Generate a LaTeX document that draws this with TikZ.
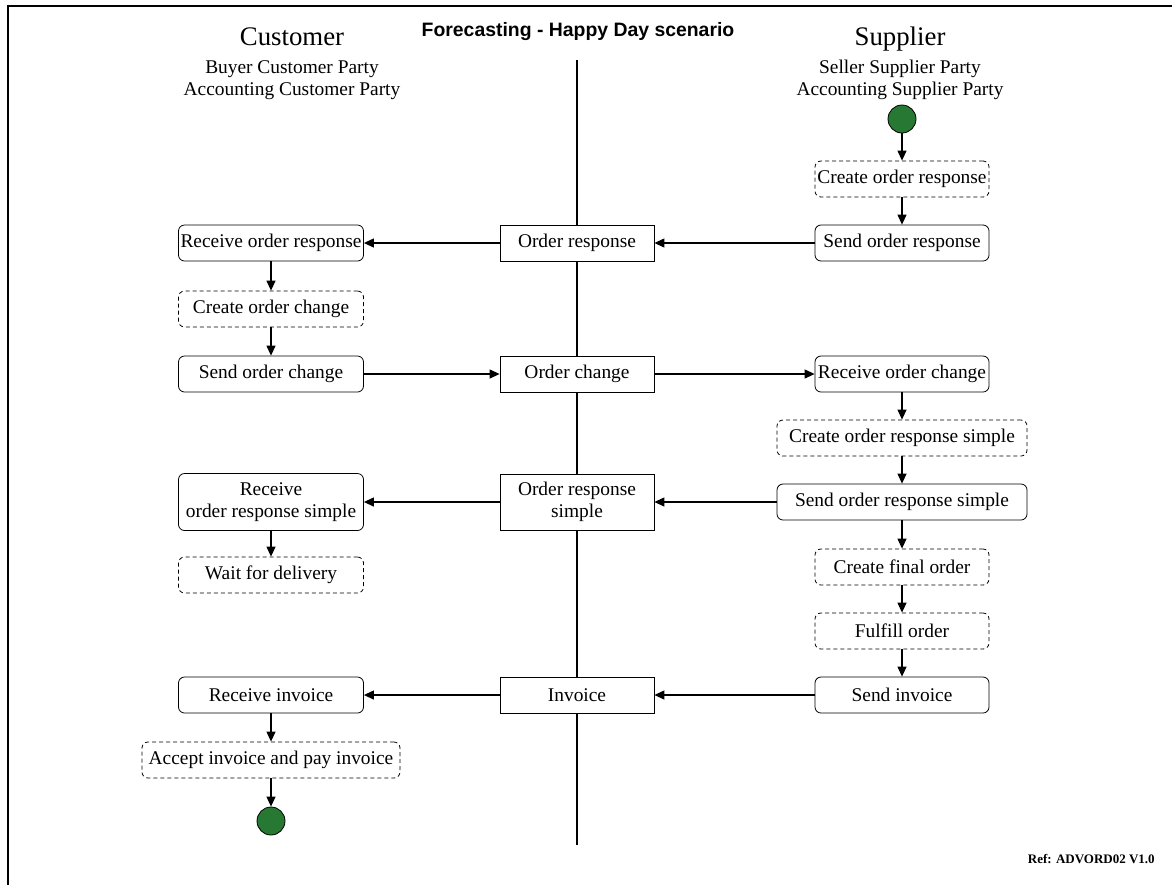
\documentclass[tikz,border=0pt]{standalone}
\usepackage{fontspec}
\setmainfont{Liberation Serif}
\newfontfamily\titlefont{Liberation Sans}
\usepackage{tikz}
\usetikzlibrary{positioning,shapes,arrows.meta}
\definecolor{startgreen}{RGB}{38,120,50}

\begin{document}
\begin{tikzpicture}[x=0.5pt,y=-0.5pt,semithick,->,>={Triangle[length=5pt,width=4.5pt]}]
\tikzstyle{every node}=[font=\fontsize{9.7}{11}\selectfont]
\tikzstyle{act}=[rectangle,rounded corners=3pt,draw,thin,minimum height=18pt,inner sep=1pt,align=center]
\tikzstyle{optact}=[act,dash pattern=on 2pt off 1.5pt]
\tikzstyle{msg}=[rectangle,draw,thin,fill=white,minimum height=18pt,minimum width=77pt,align=center]
\tikzstyle{terminal}=[circle,draw,thin,fill=startgreen,minimum size=14pt,inner sep=0pt]
\useasboundingbox (0,0) rectangle (1172,885);
\draw[-,line width=1pt] (8,885) -- (8,6) -- (1172,6);
% headings
\node[anchor=base,font=\titlefont\bfseries\fontsize{9.7}{11}\selectfont] (title) at (578,36) {Forecasting - Happy Day scenario};
\node[anchor=base,font=\fontsize{13.4}{16}\selectfont] (cust) at (292,45) {Customer};
\node[anchor=base,align=center] (custroles) at (292,95) {Buyer Customer Party\\Accounting Customer Party};
\node[anchor=base,font=\fontsize{13.4}{16}\selectfont] (supp) at (900,45) {Supplier};
\node[anchor=base,align=center] (supproles) at (900,95) {Seller Supplier Party\\Accounting Supplier Party};
\node[anchor=base east,font=\bfseries\fontsize{6.5}{8}\selectfont] (ref) at (1162,863) {Ref: ADVORD02 V1.0};
% the swimlane divider
\coordinate (ltop) at (577,60);
\coordinate (lbot) at (577,845);
\draw[-,line width=1.2pt] (ltop) -- (lbot);
% supplier side, first exchange
\node[terminal] (start) at (902,119) {};
\node[optact,minimum width=87pt,below of=start,node distance=30pt] (mkresp) {Create order response};
\node[act,minimum width=87pt,below of=mkresp,node distance=32pt] (sendresp) {Send order response};
\node[msg,left of=sendresp,node distance=162.5pt] (resp) {Order response};
\node[act,minimum width=92.5pt,left of=resp,node distance=153pt] (recvresp) {Receive order response};
\draw (start) -- (mkresp);
\draw (mkresp) -- (sendresp);
\draw (sendresp) -- (resp);
\draw (resp) -- (recvresp);
% customer changes the order
\node[optact,minimum width=92.5pt,below of=recvresp,node distance=33pt] (mkchg) {Create order change};
\node[act,minimum width=92.5pt,below of=mkchg,node distance=32.5pt] (sendchg) {Send order change};
\node[msg,right of=sendchg,node distance=153pt] (chg) {Order change};
\node[act,minimum width=87pt,right of=chg,node distance=162.5pt] (recvchg) {Receive order change};
\draw (recvresp) -- (mkchg);
\draw (mkchg) -- (sendchg);
\draw (sendchg) -- (chg);
\draw (chg) -- (recvchg);
% simple response
\node[optact,minimum width=125pt,below of=recvchg,node distance=32pt] (mksimple) {Create order response simple};
\node[act,minimum width=125pt,below of=mksimple,node distance=32pt] (sendsimple) {Send order response simple};
\node[msg,minimum height=28pt,left of=sendsimple,node distance=162.5pt] (simple) {Order response\\simple};
\node[act,minimum width=92.5pt,minimum height=28.5pt,left of=simple,node distance=153pt] (recvsimple) {Receive\\order response simple};
\node[optact,minimum width=92.5pt,below of=recvsimple,node distance=36.5pt] (wait) {Wait for delivery};
\draw (recvchg) -- (mksimple);
\draw (mksimple) -- (sendsimple);
\draw (sendsimple) -- (simple);
\draw (simple) -- (recvsimple);
\draw (recvsimple) -- (wait);
% invoicing
\node[optact,minimum width=87pt,below of=sendsimple,node distance=32.5pt] (mkfinal) {Create final order};
\node[optact,minimum width=87pt,below of=mkfinal,node distance=32pt] (fulfill) {Fulfill order};
\node[act,minimum width=87pt,below of=fulfill,node distance=32pt] (sendinv) {Send invoice};
\node[msg,left of=sendinv,node distance=162.5pt] (inv) {Invoice};
\node[act,minimum width=92.5pt,left of=inv,node distance=153pt] (recvinv) {Receive invoice};
\node[optact,minimum width=129pt,below of=recvinv,node distance=32.5pt] (pay) {Accept invoice and pay invoice};
\node[terminal,below of=pay,node distance=30.5pt] (stop) {};
\draw (sendsimple) -- (mkfinal);
\draw (mkfinal) -- (fulfill);
\draw (fulfill) -- (sendinv);
\draw (sendinv) -- (inv);
\draw (inv) -- (recvinv);
\draw (recvinv) -- (pay);
\draw (pay) -- (stop);
\end{tikzpicture}
\end{document}
